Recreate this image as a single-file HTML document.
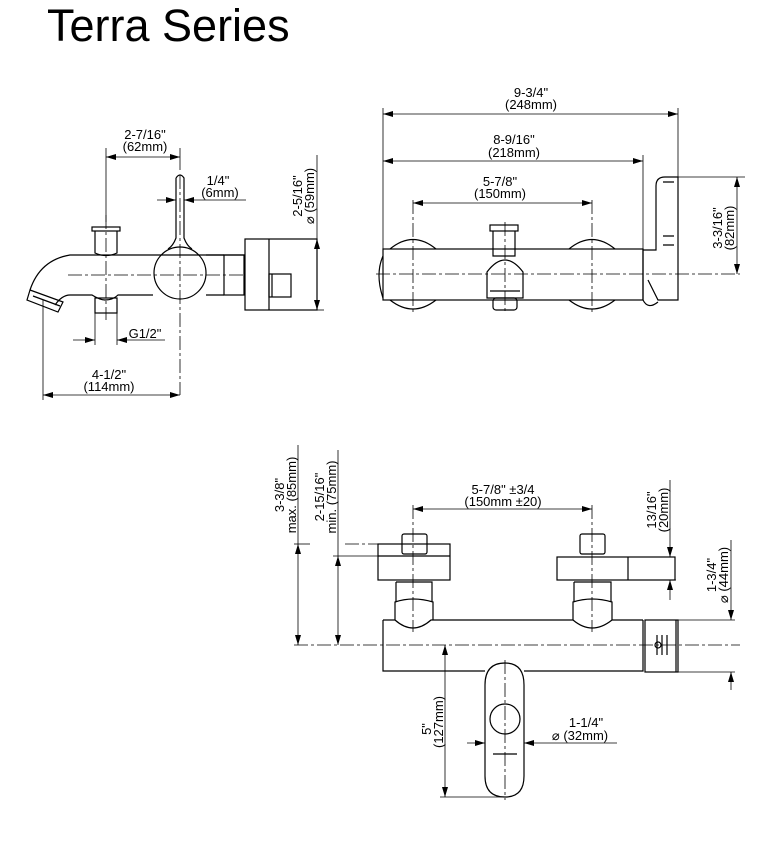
<!DOCTYPE html>
<html><head><meta charset="utf-8"><style>
html,body{margin:0;padding:0;background:#fff;}
svg{display:block;}
text{font-family:"Liberation Sans",sans-serif;font-size:13px;fill:#000;}
</style></head><body>
<svg width="771" height="846" viewBox="0 0 771 846" xmlns="http://www.w3.org/2000/svg">
<defs>
<marker id="a" viewBox="0 0 10 6" refX="10" refY="3" markerWidth="10" markerHeight="6" orient="auto-start-reverse" markerUnits="userSpaceOnUse"><path d="M0,0 L10,3 L0,6z" fill="#000"/></marker>
</defs>
<text x="47" y="41" style="font-size:45px">Terra Series</text>

<g stroke="#000" fill="none" stroke-width="1.2">
<!-- ===== TOP LEFT VIEW ===== -->
<path d="M245,255 H70 Q40,260 30,290"/>
<path d="M55,305 Q62,295 70,295 H92 Q100,300 105,300 Q113,300 118,295 H153"/>
<path d="M206,255 H224 M206,295 H224"/>
<circle cx="180" cy="273" r="26"/>
<path d="M176,178 Q180,172 184,178 V238 Q187,246 192,249 M176,178 V238 Q173,246 168,249"/>
<rect x="92" y="227" width="28" height="4"/>
<path d="M95,231 V253 Q106,258 117,253 V231"/>
<rect x="95" y="298" width="22" height="15"/>
<path d="M30,290 L63,302 L58,312 L27,300 Z M33,296 L60,306"/>
<rect x="224" y="255" width="20" height="40"/>
<rect x="245" y="239" width="72" height="71"/>
<line x1="269" y1="239" x2="269" y2="310"/>
<rect x="269" y="274" width="22" height="23"/>
<line x1="272" y1="274" x2="272" y2="297"/>
</g>
<g stroke="#000" stroke-width="0.8" fill="none" stroke-dasharray="14,3,3,3">
<line x1="68" y1="275" x2="245" y2="275"/>
<line x1="106" y1="215" x2="106" y2="320"/>
<line x1="180" y1="175" x2="180" y2="395"/>
</g>
<g stroke="#000" stroke-width="0.8" fill="none">
<line x1="106" y1="148" x2="106" y2="222"/>
<line x1="180" y1="148" x2="180" y2="170"/>
<line x1="106" y1="157" x2="180" y2="157" marker-start="url(#a)" marker-end="url(#a)"/>
<line x1="157" y1="200" x2="176" y2="200" marker-end="url(#a)"/>
<line x1="246" y1="200" x2="184" y2="200" marker-end="url(#a)"/>
<line x1="317" y1="155" x2="317" y2="239"/>
<line x1="317" y1="239" x2="317" y2="310" marker-start="url(#a)" marker-end="url(#a)"/>
<line x1="310" y1="310" x2="324" y2="310"/>
<line x1="43" y1="300" x2="43" y2="400"/>
<line x1="43" y1="395" x2="180" y2="395" marker-start="url(#a)" marker-end="url(#a)"/>
<line x1="95" y1="313" x2="95" y2="345"/>
<line x1="117" y1="313" x2="117" y2="345"/>
<line x1="73" y1="340" x2="95" y2="340" marker-end="url(#a)"/>
<line x1="165" y1="340" x2="117" y2="340" marker-end="url(#a)"/>
</g>
<text x="145" y="139" text-anchor="middle">2-7/16"</text>
<text x="145" y="151" text-anchor="middle">(62mm)</text>
<text x="218" y="185" text-anchor="middle">1/4"</text>
<text x="220" y="197" text-anchor="middle">(6mm)</text>
<text x="145" y="338" text-anchor="middle">G1/2"</text>
<text x="109" y="379" text-anchor="middle">4-1/2"</text>
<text x="109" y="391" text-anchor="middle">(114mm)</text>
<text transform="translate(302,196) rotate(-90)" text-anchor="middle">2-5/16"</text>
<text transform="translate(314,196) rotate(-90)" text-anchor="middle">⌀ (59mm)</text>

<!-- ===== TOP RIGHT VIEW ===== -->
<g stroke="#000" fill="none" stroke-width="1.2">
<path d="M383,256 Q375,274 383,298"/>
<path d="M390,249 Q413,230 436,249 M390,300 Q413,318 436,300"/>
<path d="M569,249 Q592,230 615,249 M569,300 Q592,318 615,300"/>
<rect x="383" y="249" width="260" height="51"/>
<rect x="490" y="225" width="28" height="6"/>
<path d="M493,231 V256 H515 V231"/>
<path d="M487,298 V272 Q505,248 523,272 V298 Z"/>
<path d="M490,291 H520"/>
<rect x="493" y="298" width="24" height="12" rx="3"/>
<path d="M643,249 V300 Q648,310 658,302"/>
<path d="M643,250 H656 V186 Q656,177 665,177 H678 V300 H658 L648,280"/>
<path d="M663,182 H674 M663,236 H674 M663,245 H674"/>
</g>
<g stroke="#000" stroke-width="0.8" fill="none" stroke-dasharray="14,3,3,3">
<line x1="376" y1="274" x2="740" y2="274"/>
<line x1="413" y1="200" x2="413" y2="312"/>
<line x1="592" y1="200" x2="592" y2="312"/>
<line x1="505" y1="222" x2="505" y2="312"/>
</g>
<g stroke="#000" stroke-width="0.8" fill="none">
<line x1="383" y1="108" x2="383" y2="250"/>
<line x1="678" y1="108" x2="678" y2="178"/>
<line x1="643" y1="155" x2="643" y2="250"/>
<line x1="383" y1="114" x2="678" y2="114" marker-start="url(#a)" marker-end="url(#a)"/>
<line x1="383" y1="161" x2="643" y2="161" marker-start="url(#a)" marker-end="url(#a)"/>
<line x1="413" y1="203" x2="592" y2="203" marker-start="url(#a)" marker-end="url(#a)"/>
<line x1="678" y1="177" x2="745" y2="177"/>
<line x1="737" y1="177" x2="737" y2="274" marker-start="url(#a)" marker-end="url(#a)"/>
</g>
<text x="531" y="97" text-anchor="middle">9-3/4"</text>
<text x="531" y="109" text-anchor="middle">(248mm)</text>
<text x="514" y="144" text-anchor="middle">8-9/16"</text>
<text x="514" y="157" text-anchor="middle">(218mm)</text>
<text x="500" y="186" text-anchor="middle">5-7/8"</text>
<text x="500" y="198" text-anchor="middle">(150mm)</text>
<text transform="translate(722,228) rotate(-90)" text-anchor="middle">3-3/16"</text>
<text transform="translate(734,228) rotate(-90)" text-anchor="middle">(82mm)</text>

<!-- ===== BOTTOM VIEW ===== -->
<g stroke="#000" fill="none" stroke-width="1.2">
<path d="M383,620 H395 Q413,636 431,620 H573 Q592,636 612,620 H643"/>
<path d="M383,620 V671 H485 M524,671 H643 V620"/>
<rect x="645" y="620" width="33" height="52"/>
<line x1="676" y1="620" x2="676" y2="672"/>
<path d="M657,635 V655 M662,635 V655 M667,635 V655"/>
<circle cx="658" cy="645" r="3"/>
<rect x="378" y="544" width="72" height="36"/>
<line x1="378" y1="556" x2="450" y2="556"/>
<rect x="402" y="534" width="25" height="20" rx="2"/>
<path d="M396,582 H432 V602 M396,582 V602"/>
<path d="M395,620 V602 Q413,596 433,602 V620"/>
<rect x="557" y="557" width="118" height="23"/>
<line x1="628" y1="557" x2="628" y2="580"/>
<rect x="580" y="534" width="25" height="20" rx="2"/>
<path d="M574,582 H611 V602 M574,582 V602"/>
<path d="M573,620 V602 Q592,596 612,602 V620"/>
<path d="M485,685 Q485,663 505,663 Q524,663 524,685 V776 Q524,797 505,797 Q485,797 485,776 Z"/>
<circle cx="505" cy="719" r="15"/>
<line x1="493" y1="754" x2="517" y2="754"/>
</g>
<g stroke="#000" stroke-width="0.8" fill="none" stroke-dasharray="14,3,3,3">
<line x1="294" y1="645" x2="740" y2="645"/>
<line x1="413" y1="505" x2="413" y2="632"/>
<line x1="592" y1="505" x2="592" y2="632"/>
<line x1="505" y1="660" x2="505" y2="800"/>
<line x1="345" y1="544" x2="400" y2="544"/>
</g>
<g stroke="#000" stroke-width="0.8" fill="none">
<line x1="413" y1="503" x2="413" y2="503"/>
<line x1="413" y1="509" x2="592" y2="509" marker-start="url(#a)" marker-end="url(#a)"/>
<line x1="298" y1="445" x2="298" y2="544"/>
<line x1="298" y1="544" x2="298" y2="645" marker-start="url(#a)" marker-end="url(#a)"/>
<line x1="294" y1="544" x2="310" y2="544"/>
<line x1="338" y1="450" x2="338" y2="556"/>
<line x1="338" y1="556" x2="338" y2="645" marker-start="url(#a)" marker-end="url(#a)"/>
<line x1="333" y1="556" x2="378" y2="556"/>
<line x1="670" y1="480" x2="670" y2="557" marker-end="url(#a)"/>
<line x1="670" y1="600" x2="670" y2="580" marker-end="url(#a)"/>
<line x1="628" y1="580" x2="676" y2="580"/>
<line x1="731" y1="540" x2="731" y2="620" marker-end="url(#a)"/>
<line x1="731" y1="690" x2="731" y2="672" marker-end="url(#a)"/>
<line x1="678" y1="620" x2="735" y2="620"/>
<line x1="678" y1="672" x2="735" y2="672"/>
<line x1="445" y1="645" x2="445" y2="797" marker-start="url(#a)" marker-end="url(#a)"/>
<line x1="440" y1="797" x2="505" y2="797"/>
<line x1="467" y1="743" x2="485" y2="743" marker-end="url(#a)"/>
<line x1="617" y1="743" x2="524" y2="743" marker-end="url(#a)"/>
</g>
<text x="503" y="494" text-anchor="middle">5-7/8" ±3/4</text>
<text x="503" y="506" text-anchor="middle">(150mm ±20)</text>
<text transform="translate(284,495) rotate(-90)" text-anchor="middle">3-3/8"</text>
<text transform="translate(296,495) rotate(-90)" text-anchor="middle">max. (85mm)</text>
<text transform="translate(324,497) rotate(-90)" text-anchor="middle">2-15/16"</text>
<text transform="translate(336,497) rotate(-90)" text-anchor="middle">min. (75mm)</text>
<text transform="translate(656,510) rotate(-90)" text-anchor="middle">13/16"</text>
<text transform="translate(668,510) rotate(-90)" text-anchor="middle">(20mm)</text>
<text transform="translate(716,575) rotate(-90)" text-anchor="middle">1-3/4"</text>
<text transform="translate(728,575) rotate(-90)" text-anchor="middle">⌀ (44mm)</text>
<text transform="translate(431,729) rotate(-90)" text-anchor="middle">5"</text>
<text transform="translate(443,722) rotate(-90)" text-anchor="middle">(127mm)</text>
<text x="586" y="727" text-anchor="middle">1-1/4"</text>
<text x="580" y="740" text-anchor="middle">⌀ (32mm)</text>
</svg>
</body></html>
